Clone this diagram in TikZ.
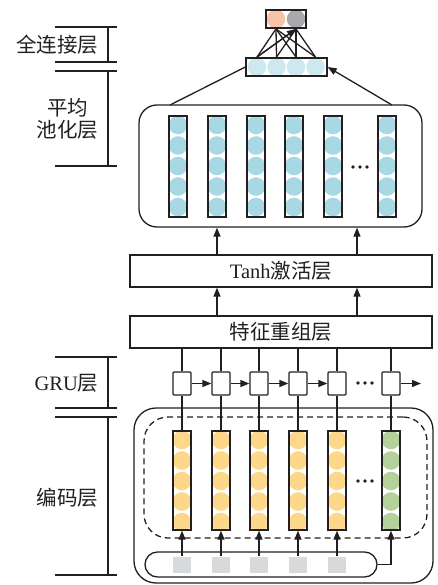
\documentclass[tikz,border=0pt]{standalone}
\usepackage{fontspec}
\setmainfont{Liberation Serif}
\newfontfamily\cjk{Noto Sans CJK SC}
\usetikzlibrary{arrows.meta,calc}
\definecolor{ink}{HTML}{231F20}
\definecolor{poolblue}{HTML}{A8D8E4}
\definecolor{fcblue}{HTML}{CDE9EF}
\definecolor{peach}{HTML}{F6C4A6}
\definecolor{outgray}{HTML}{A8A9AD}
\definecolor{yel}{HTML}{FDD88A}
\definecolor{grn}{HTML}{B5D19B}
\definecolor{ingray}{HTML}{D8D9DB}
\begin{document}
\begin{tikzpicture}[x=1pt,y=-1pt, line width=1.3pt, draw=ink,
  arr/.style={-{Triangle[length=9pt,width=7pt]}},
  colbox/.style={draw=ink, minimum width=18pt, minimum height=101pt, inner sep=0pt},
  gbox/.style={draw=ink, fill=white, rounded corners=1pt, minimum width=18pt, minimum height=23pt, inner sep=0pt},
  ball/.style={circle, inner sep=0pt, minimum size=18.6pt},
  layerbox/.style={draw=ink, minimum width=302pt, minimum height=32pt, inner sep=0pt, font=\fontsize{20.5}{24}\selectfont\cjk, text=ink},
  lbl/.style={font=\fontsize{20.5}{22}\selectfont\cjk, inner sep=0pt, text=ink},
]
\useasboundingbox (0,0) rectangle (438,585);

% ---------- left brackets ----------
\begin{scope}[line width=1.2pt]
\draw (55,27) -- (117,27); \draw (55,62) -- (117,62); \draw (108,27) -- (108,62);
\draw (55,71) -- (117,71); \draw (55,166) -- (117,166); \draw (108,71) -- (108,166);
\draw (55,357) -- (117,357); \draw (55,408) -- (117,408); \draw (108,357) -- (108,408);
\draw (55,417) -- (117,417); \draw (55,575) -- (117,575); \draw (108,417) -- (108,575);
\end{scope}
\node[lbl, anchor=east] (l1) at (99,45) {全连接层};
\node[lbl, anchor=east, align=center] (l2) at (99,119) {平均\\池化层};
\node[lbl, anchor=east] (l3) at (99,383) {{\rmfamily GRU}层};
\node[lbl, anchor=east] (l4) at (99,498) {编码层};

% ---------- fully connected ----------
\node[ball, fill=peach] (o1) at (276,19) {};
\node[ball, fill=outgray] (o2) at (296,19) {};
\node[draw=ink, minimum width=40pt, minimum height=18pt, inner sep=0pt] (out) at (286,19) {};
\foreach \x [count=\i] in {257,276.5,296,315.5}
  \node[ball, fill=fcblue] (f\i) at (\x,67) {};
\node[draw=ink, minimum width=81pt, minimum height=18pt, inner sep=0pt] (fc) at (286.5,67) {};
\foreach \i in {1,...,4}
  \foreach \j in {1,2}
    \draw (f\i.north) -- (o\j.south);
\draw[arr] (f1.north) -- (o2.south);

% ---------- pooling ----------
\node[draw=ink, rounded corners=18pt, minimum width=283pt, minimum height=122pt, inner sep=0pt] (pool) at (280.5,166) {};
\foreach \x [count=\i] in {178,217,256,294,333,387} {
  \foreach \k in {0,...,4}
    \fill[poolblue] (\x,125+20.5*\k) circle[radius=9.3pt];
  \node[colbox] (p\i) at (\x,166.5) {};
}
\fill[ink] (353,167) circle[radius=1.9pt] (360,167) circle[radius=1.9pt] (367,167) circle[radius=1.9pt];
\coordinate (pl) at (170,105);
\coordinate (pr) at (392,105);
\draw (pl) -- (fc.west);
\draw[arr] (pr) -- (fc.east);

% ---------- tanh / feature ----------
\node[layerbox] (tanh) at (281,271) {{\rmfamily Tanh}激活层};
\node[layerbox] (feat) at (281,332) {特征重组层};
\coordinate (a1) at (217,0);
\coordinate (a2) at (357,0);
\draw[arr] (tanh.north -| a1) -- (pool.south -| a1);
\draw[arr] (tanh.north -| a2) -- (pool.south -| a2);
\draw[arr] (feat.north -| a1) -- (tanh.south -| a1);
\draw[arr] (feat.north -| a2) -- (tanh.south -| a2);

% ---------- encoding ----------
\node[draw=ink, rounded corners=22pt, minimum width=299pt, minimum height=175pt, inner sep=0pt] (enc) at (283.5,495.5) {};
\node[draw=ink, dashed, dash pattern=on 6pt off 4pt, rounded corners=24pt, minimum width=283pt, minimum height=121pt, inner sep=0pt] (dash) at (285.5,477.5) {};
\foreach \x [count=\i] in {182,221,259,298,337,391} {
  \ifnum\i<6
    \foreach \k in {0,...,4} \fill[yel] (\x,440+20.5*\k) circle[radius=9.3pt];
  \else
    \foreach \k in {0,...,4} \fill[grn] (\x,440+20.5*\k) circle[radius=9.3pt];
  \fi
  \node[colbox, minimum height=99pt] (e\i) at (\x,480.5) {};
  \node[gbox] (g\i) at (\x,383.5) {};
  \draw (feat.south -| g\i) -- (g\i.north);
  \draw (g\i.south) -- (e\i.north);
}
\fill[ink] (358,481) circle[radius=1.9pt] (365,481) circle[radius=1.9pt] (372,481) circle[radius=1.9pt];
\fill[ink] (358,383) circle[radius=1.9pt] (365,383) circle[radius=1.9pt] (372,383) circle[radius=1.9pt];
\foreach \i [evaluate=\i as \n using int(\i+1)] in {1,...,4}
  \draw[arr] (g\i.east) -- (g\n.west);
\coordinate (gend) at (421,383.5);
\draw[arr] (g6.east) -- (gend);

% ---------- input ----------
\node[draw=ink, rounded corners=12.5pt, minimum width=232pt, minimum height=25pt, inner sep=0pt] (pill) at (261,564.5) {};
\foreach \x [count=\i] in {182,221,259,298,337} {
  \node[fill=ingray, minimum width=18pt, minimum height=16pt, inner sep=0pt] (s\i) at (\x,565) {};
  \draw[arr] (s\i.north) -- (e\i.south);
}
\draw[arr] (pill.east) -| (e6.south);
\end{tikzpicture}
\end{document}
